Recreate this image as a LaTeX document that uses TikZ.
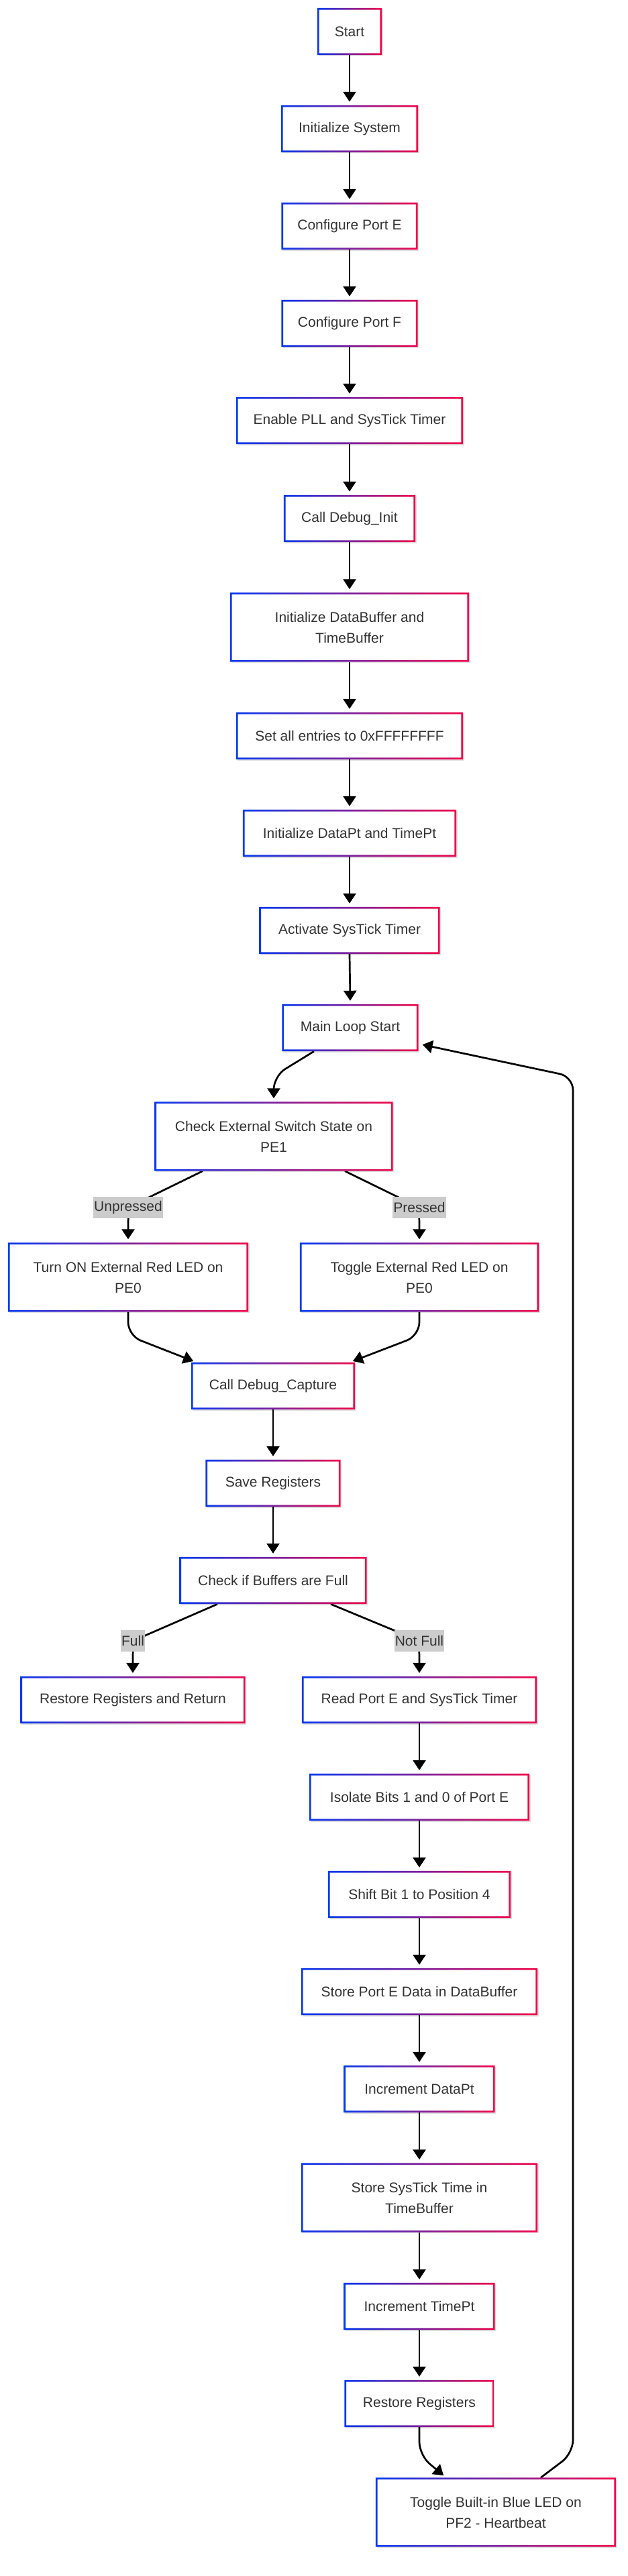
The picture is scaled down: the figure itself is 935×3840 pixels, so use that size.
\documentclass[tikz,border=0pt]{standalone}
\usepackage{fontspec}
\setmainfont{Liberation Sans}
\usetikzlibrary{arrows.meta,shadows}
\definecolor{gblue}{RGB}{8,56,240}
\definecolor{gred}{RGB}{240,8,74}
\definecolor{tgray}{HTML}{333333}
\definecolor{lgray}{HTML}{CCCCCC}
\pgfdeclarelayer{bgl}
\pgfdeclarelayer{edges}
\pgfsetlayers{bgl,edges,main}
\newcommand{\gborder}[1]{%
  \shade[left color=gblue, right color=gred, even odd rule]
    (#1.south west) rectangle (#1.north east)
    ([shift={(2.8pt,2.8pt)}]#1.south west) rectangle ([shift={(-2.8pt,-2.8pt)}]#1.north east);}
\begin{document}
\begin{tikzpicture}[x=1pt,y=-1pt,
  box/.style={fill=white, draw=none, text=tgray, font=\fontsize{21}{31}\selectfont,
    align=center, inner sep=0pt, minimum height=70pt,
    drop shadow={shadow xshift=1.5pt, shadow yshift=-1.5pt, opacity=0.12, fill=black}},
  boxtwo/.style={box, minimum height=103pt},
  lab/.style={fill=lgray, text=tgray, font=\fontsize{21}{31}\selectfont,
    inner xsep=1pt, inner ysep=0pt, minimum height=32pt},
  arr/.style={line width=2.7pt, draw=black, -{Triangle[length=15pt,width=19pt]},
    shorten >=5pt, rounded corners=20pt}]
\useasboundingbox (0,0) rectangle (935,3840);
\begin{pgfonlayer}{bgl}
\fill[white] (0,0) rectangle (935,3840);
\end{pgfonlayer}

% nodes
\node[box, minimum width=96pt]  (s1) at (521,47) {Start};
\node[box, minimum width=204pt] (s2) at (521,192) {Initialize System};
\node[box, minimum width=203pt] (s3) at (521,337) {Configure Port E};
\node[box, minimum width=203pt] (s4) at (521,482) {Configure Port F};
\node[box, minimum width=338pt] (s5) at (521,627) {Enable PLL and SysTick Timer};
\node[box, minimum width=196pt] (s6) at (521,773) {Call Debug\_Init};
\node[boxtwo, minimum width=356pt] (s7) at (521,935) {Initialize DataBuffer and\\TimeBuffer};
\node[box, minimum width=338pt] (s8) at (521,1097) {Set all entries to 0xFFFFFFFF};
\node[box, minimum width=318pt] (s9) at (521,1242) {Initialize DataPt and TimePt};
\node[box, minimum width=269pt] (s10) at (521,1387) {Activate SysTick Timer};
\node[box, minimum width=203pt] (ml) at (522,1532) {Main Loop Start};
\node[boxtwo, minimum width=355pt] (ce) at (408,1694) {Check External Switch State on\\PE1};
\node[boxtwo, minimum width=358pt] (tn) at (191,1904) {Turn ON External Red LED on\\PE0};
\node[boxtwo, minimum width=356pt] (te) at (625,1904) {Toggle External Red LED on\\PE0};
\node[box, minimum width=244pt] (cd) at (407,2066) {Call Debug\_Capture};
\node[box, minimum width=201pt] (sr) at (407,2211) {Save Registers};
\node[box, minimum width=279pt] (cb) at (407,2356) {Check if Buffers are Full};
\node[box, minimum width=335pt] (rr) at (198,2534) {Restore Registers and Return};
\node[box, minimum width=350pt] (rp) at (625,2534) {Read Port E and SysTick Timer};
\node[box, minimum width=328pt] (iso) at (625,2679) {Isolate Bits 1 and 0 of Port E};
\node[box, minimum width=272pt] (sh) at (625,2824) {Shift Bit 1 to Position 4};
\node[box, minimum width=352pt] (spe) at (625,2969) {Store Port E Data in DataBuffer};
\node[box, minimum width=225pt] (idp) at (625,3114) {Increment DataPt};
\node[boxtwo, minimum width=352pt] (sst) at (625,3276) {Store SysTick Time in\\TimeBuffer};
\node[box, minimum width=225pt] (itp) at (625,3438) {Increment TimePt};
\node[box, minimum width=223pt] (rg) at (625,3583) {Restore Registers};
\node[boxtwo, minimum width=358pt] (tb) at (739,3745) {Toggle Built-in Blue LED on\\PF2 - Heartbeat};

\foreach \n in {s1,s2,s3,s4,s5,s6,s7,s8,s9,s10,ml,ce,tn,te,cd,sr,cb,rr,rp,iso,sh,spe,idp,sst,itp,rg,tb}
  {\gborder{\n}}

% edge labels
\node[lab] (lu) at (191,1800) {Unpressed};
\node[lab] (lp) at (625,1800) {Pressed};
\node[lab] (lf) at (198,2446) {Full};
\node[lab] (lnf) at (625,2446) {Not Full};

% connectors
\begin{pgfonlayer}{edges}
\foreach \a/\b in {s1/s2,s2/s3,s3/s4,s4/s5,s5/s6,s6/s7,s7/s8,s8/s9,s9/s10,s10/ml,
                   cd/sr,sr/cb,rp/iso,iso/sh,sh/spe,spe/idp,idp/sst,sst/itp,itp/rg}
  {\draw[arr] (\a.south) -- (\b.north);}
\draw[arr] ([xshift=-54pt]ml.south) -- (408,1604) -- (ce.north);
\draw[arr] ([xshift=-106pt]ce.south) -- (lu.center) -- (tn.north);
\draw[arr] ([xshift=106pt]ce.south) -- (lp.center) -- (te.north);
\draw[arr] (tn.south) -- (191,1991) -- ([xshift=8pt]cd.north west);
\draw[arr] (te.south) -- (625,1991) -- ([xshift=-8pt]cd.north east);
\draw[arr] ([xshift=-83pt]cb.south) -- (lf.center) -- (rr.north);
\draw[arr] ([xshift=86pt]cb.south) -- (lnf.center) -- (rp.north);
\draw[arr] (rg.south) -- (625,3660) -- ([xshift=-74pt]tb.north);
\draw[arr, shorten >=6pt] ([xshift=67pt]tb.north) -- (854,3657) -- (854,1605) -- ([yshift=-24pt]ml.east);
\end{pgfonlayer}
\end{tikzpicture}
\end{document}
